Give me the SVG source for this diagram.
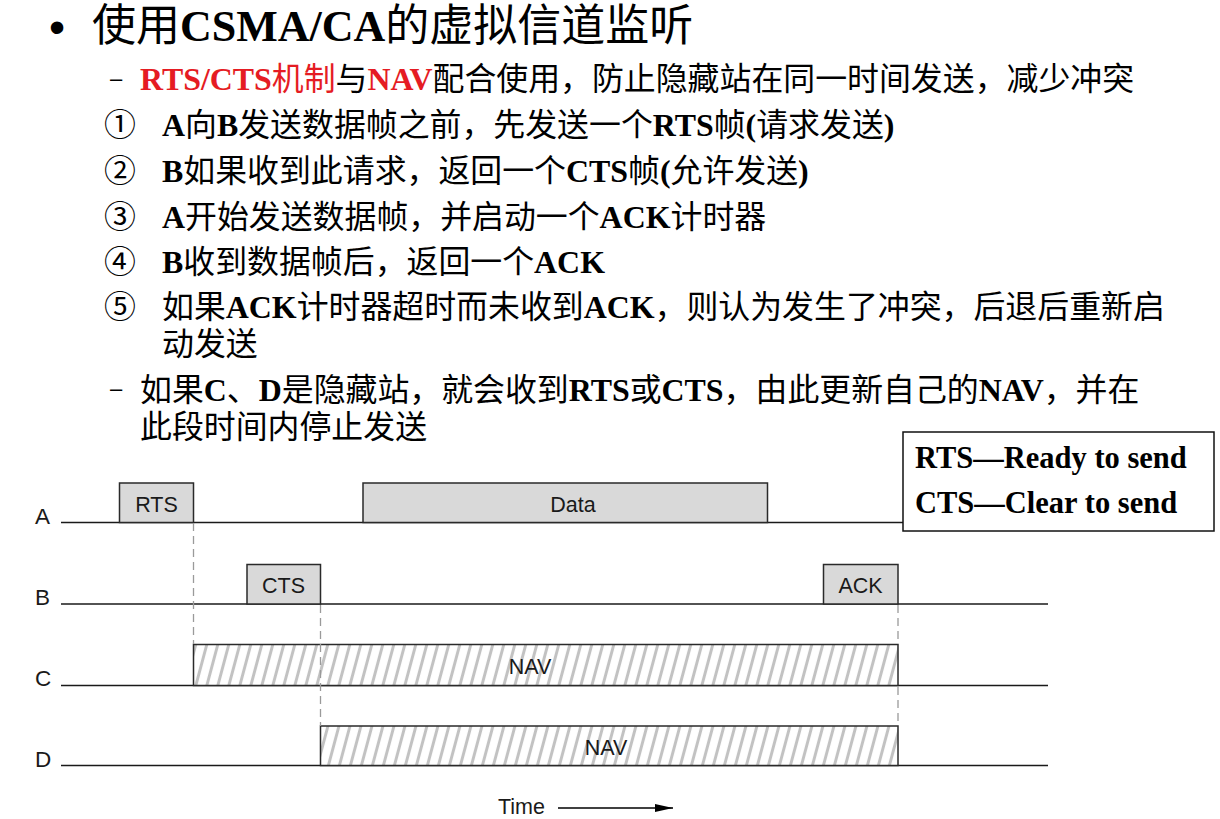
<svg xmlns="http://www.w3.org/2000/svg" width="1220" height="819" viewBox="0 0 1220 819">
  <defs>
    <style>
      .t{font-family:"Liberation Serif","Noto Sans CJK SC",serif;font-size:31.9px;fill:#000}
      .b{font-weight:bold}
      .red{fill:#e51c23}
      .dash{font-family:"Liberation Sans",Arial,sans-serif;font-size:22px;fill:#000}
      .lbl{font-family:"Liberation Sans",Arial,sans-serif;font-size:21.5px;fill:#1a1a1a}
      .stn{font-family:"Liberation Sans",Arial,sans-serif;font-size:22.5px;fill:#1a1a1a}
      .mid{text-anchor:middle}
      .frame{fill:#d9d9d9;stroke:#2a2a2a;stroke-width:1.5}
      .nav{fill:url(#hatch);stroke:#2a2a2a;stroke-width:1.5}
      .axis{stroke:#1a1a1a;stroke-width:1.6;fill:none}
      .guide{stroke:#9a9a9a;stroke-width:1.3;stroke-dasharray:8 5;fill:none}
      .legend{font-family:"Liberation Serif","Times New Roman",serif;font-weight:bold;font-size:30.5px;fill:#000}
    </style>
    <pattern id="hatch" patternUnits="userSpaceOnUse" width="11" height="11" patternTransform="skewX(-15)">
      <rect width="11" height="11" fill="#fff"/>
      <line x1="5.5" y1="-1" x2="5.5" y2="12" stroke="#c2c2c2" stroke-width="3.1"/>
    </pattern>
    <marker id="arr" markerUnits="userSpaceOnUse" markerWidth="20" markerHeight="10" refX="18" refY="5" orient="auto">
      <polygon points="0,1 18,5 0,9" fill="#000"/>
    </marker>
  </defs>

  <rect width="1220" height="819" fill="#fff"/>

  <!-- heading and bullet text -->
  <g id="heading">
    <text x="49" y="43" style="font-family:'Liberation Sans',Arial,sans-serif;font-size:46px">•</text>
    <text class="t" x="92" y="41" style="font-size:44px">使用<tspan class="b">CSMA/CA</tspan>的虚拟信道监听</text>
  </g>

  <g id="points">
    <text class="dash red" x="110" y="86">–</text>
    <text class="t" x="140" y="90"><tspan class="b red">RTS/CTS</tspan><tspan class="red">机制</tspan>与<tspan class="b red">NAV</tspan>配合使用，防止隐藏站在同一时间发送，减少冲突</text>

    <text class="t" x="104" y="136">①</text>
    <text class="t" x="162" y="136"><tspan class="b">A</tspan>向<tspan class="b">B</tspan>发送数据帧之前，先发送一个<tspan class="b">RTS</tspan>帧<tspan class="b">(</tspan>请求发送<tspan class="b">)</tspan></text>

    <text class="t" x="104" y="182">②</text>
    <text class="t" x="162" y="182"><tspan class="b">B</tspan>如果收到此请求，返回一个<tspan class="b">CTS</tspan>帧<tspan class="b">(</tspan>允许发送<tspan class="b">)</tspan></text>

    <text class="t" x="104" y="228">③</text>
    <text class="t" x="162" y="228"><tspan class="b">A</tspan>开始发送数据帧，并启动一个<tspan class="b">ACK</tspan>计时器</text>

    <text class="t" x="104" y="273">④</text>
    <text class="t" x="162" y="273"><tspan class="b">B</tspan>收到数据帧后，返回一个<tspan class="b">ACK</tspan></text>

    <text class="t" x="104" y="318">⑤</text>
    <text class="t" x="162" y="318">如果<tspan class="b">ACK</tspan>计时器超时而未收到<tspan class="b">ACK</tspan>，则认为发生了冲突，后退后重新启</text>
    <text class="t" x="162" y="355">动发送</text>

    <text class="dash" x="110" y="396">–</text>
    <text class="t" x="140" y="401">如果<tspan class="b">C</tspan>、<tspan class="b">D</tspan>是隐藏站，就会收到<tspan class="b">RTS</tspan>或<tspan class="b">CTS</tspan>，由此更新自己的<tspan class="b">NAV</tspan>，并在</text>
    <text class="t" x="140" y="438">此段时间内停止发送</text>
  </g>

  <!-- station time lines -->
  <g id="stations">
    <text class="stn" x="35" y="524">A</text>
    <text class="stn" x="35" y="605">B</text>
    <text class="stn" x="35" y="686">C</text>
    <text class="stn" x="35" y="767">D</text>
    <line class="axis" x1="61" y1="522.5" x2="1048" y2="522.5"/>
    <line class="axis" x1="61" y1="604" x2="1048" y2="604"/>
    <line class="axis" x1="61" y1="685.5" x2="1048" y2="685.5"/>
    <line class="axis" x1="61" y1="765.5" x2="1048" y2="765.5"/>
  </g>

  <!-- frames on the medium -->
  <g id="rts">
    <rect class="frame" x="119.5" y="483" width="74" height="39.5"/>
    <text class="lbl mid" x="156.5" y="512">RTS</text>
  </g>
  <g id="data">
    <rect class="frame" x="363" y="483" width="404.5" height="39.5"/>
    <text class="lbl mid" x="573" y="512">Data</text>
  </g>
  <g id="cts">
    <rect class="frame" x="247" y="564.5" width="73.5" height="39.5"/>
    <text class="lbl mid" x="283.5" y="593">CTS</text>
  </g>
  <g id="ack">
    <rect class="frame" x="823.5" y="564.5" width="74.5" height="39.5"/>
    <text class="lbl mid" x="860.5" y="593">ACK</text>
  </g>
  <g id="nav-c">
    <rect class="nav" x="193.5" y="644.5" width="704.5" height="41"/>
    <text class="lbl mid" x="530" y="674">NAV</text>
  </g>
  <g id="nav-d">
    <rect class="nav" x="320.5" y="726" width="577.5" height="39.5"/>
    <text class="lbl mid" x="606" y="755">NAV</text>
  </g>

  <!-- dashed timing guides -->
  <g id="connectors">
    <line class="guide" x1="193.5" y1="523" x2="193.5" y2="644"/>
    <line class="guide" x1="320.5" y1="605" x2="320.5" y2="726"/>
    <line class="guide" x1="898" y1="605" x2="898" y2="644"/>
    <line class="guide" x1="898" y1="687" x2="898" y2="726"/>
  </g>

  <g id="time-axis">
    <text class="lbl" x="498" y="814">Time</text>
    <line x1="558" y1="808" x2="673" y2="808" stroke="#000" stroke-width="1.5" marker-end="url(#arr)"/>
  </g>

  <g id="legend">
    <rect x="903" y="432" width="311" height="99" fill="#fff" stroke="#111" stroke-width="1.5"/>
    <text class="legend" x="915" y="468">RTS—Ready to send</text>
    <text class="legend" x="915" y="513">CTS—Clear to send</text>
  </g>
</svg>
